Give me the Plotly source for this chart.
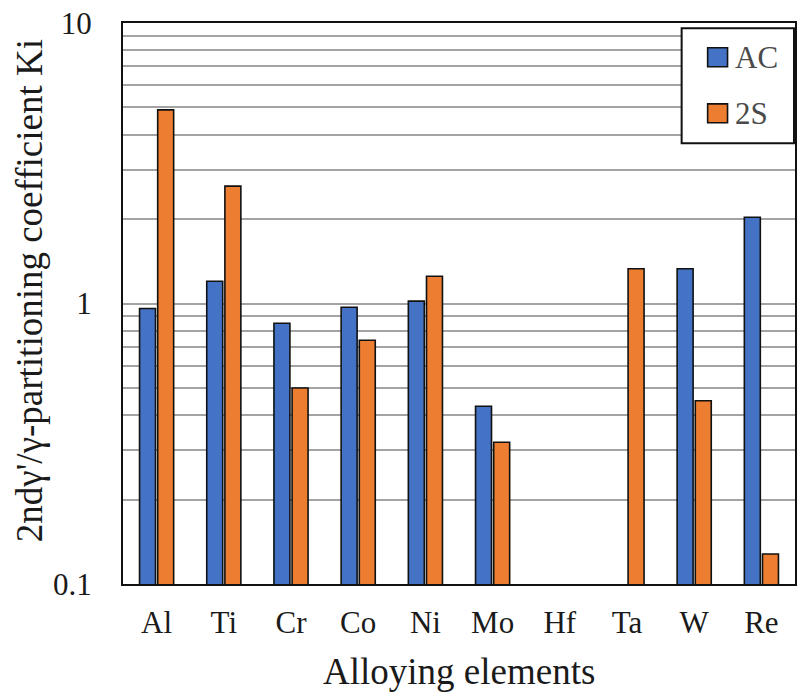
import plotly.graph_objects as go

# Partitioning coefficients (2nd gamma-prime / gamma) per alloying element
elements = ["Al", "Ti", "Cr", "Co", "Ni", "Mo", "Hf", "Ta", "W", "Re"]
ki_ac = [0.96, 1.20, 0.85, 0.97, 1.02, 0.43, None, None, 1.33, 2.03]
ki_2s = [4.9, 2.62, 0.50, 0.74, 1.25, 0.32, None, 1.33, 0.45, 0.128]
series_names = ["AC", "2S"]
series_colors = ["#4472C4", "#ED7D31"]

FONT = "Liberation Serif"
TEXT = "#1a1a1a"

fig = go.Figure()
for name, vals, col in zip(series_names, [ki_ac, ki_2s], series_colors):
    fig.add_trace(go.Bar(
        x=elements, y=vals, name=name,
        marker=dict(color=col, line=dict(color="#111111", width=1.6)),
        showlegend=False,
    ))

fig.update_layout(
    width=798, height=695,
    margin=dict(l=123, r=1, t=23, b=111),
    paper_bgcolor="white", plot_bgcolor="white",
    barmode="group", bargap=0.46, bargroupgap=0.12,
    font=dict(family=FONT, size=31, color=TEXT),
)

fig.update_yaxes(
    type="log", range=[-1, 1],
    tickvals=[0.1, 1, 10], ticktext=["0.1", "1", "10"],
    ticks="", ticklabelstandoff=23,
    tickfont=dict(family=FONT, size=31, color=TEXT),
    showgrid=True, gridcolor="#a3a3a3", gridwidth=1.5,
    minor=dict(tickvals=[v * d for d in (0.1, 1) for v in range(2, 10)],
               showgrid=True, gridcolor="#a3a3a3", gridwidth=1.5, ticks=""),
    showline=True, linecolor="#111111", linewidth=2, mirror=True,
    zeroline=False,
)
fig.update_xaxes(
    ticks="", ticklabelstandoff=10,
    tickfont=dict(family=FONT, size=31, color=TEXT),
    showline=True, linecolor="#111111", linewidth=2, mirror=True,
    showgrid=False,
)

# Axis titles
fig.add_annotation(
    text="Alloying elements", xref="paper", yref="paper",
    x=0.5, y=0, yshift=-87, xanchor="center", yanchor="middle",
    showarrow=False, font=dict(family=FONT, size=37, color=TEXT),
)
fig.add_annotation(
    text="2ndγ'/γ-partitioning coefficient Ki", xref="paper", yref="paper",
    x=0, xshift=-94, y=0.522, textangle=-90,
    xanchor="center", yanchor="middle",
    showarrow=False, font=dict(family=FONT, size=37, color=TEXT),
)

# Legend box with colour keys
fig.add_shape(type="rect", xref="paper", yref="paper",
              x0=0.8313, x1=0.9985, y0=0.7856, y1=0.9906,
              line=dict(color="#111111", width=2), fillcolor="white", layer="above")
for i, (name, col) in enumerate(zip(series_names, series_colors)):
    yc = 0.939 - i * 0.1
    fig.add_shape(type="rect", xref="paper", yref="paper",
                  x0=0.870, x1=0.8996, y0=yc - 0.0169, y1=yc + 0.0169,
                  line=dict(color="#111111", width=1.6), fillcolor=col, layer="above")
    fig.add_annotation(text=name, xref="paper", yref="paper",
                       x=0.907, y=yc, xanchor="left", yanchor="middle",
                       showarrow=False,
                       font=dict(family=FONT, size=31, color="#4a4a4a"))

fig.write_html("out.html")
